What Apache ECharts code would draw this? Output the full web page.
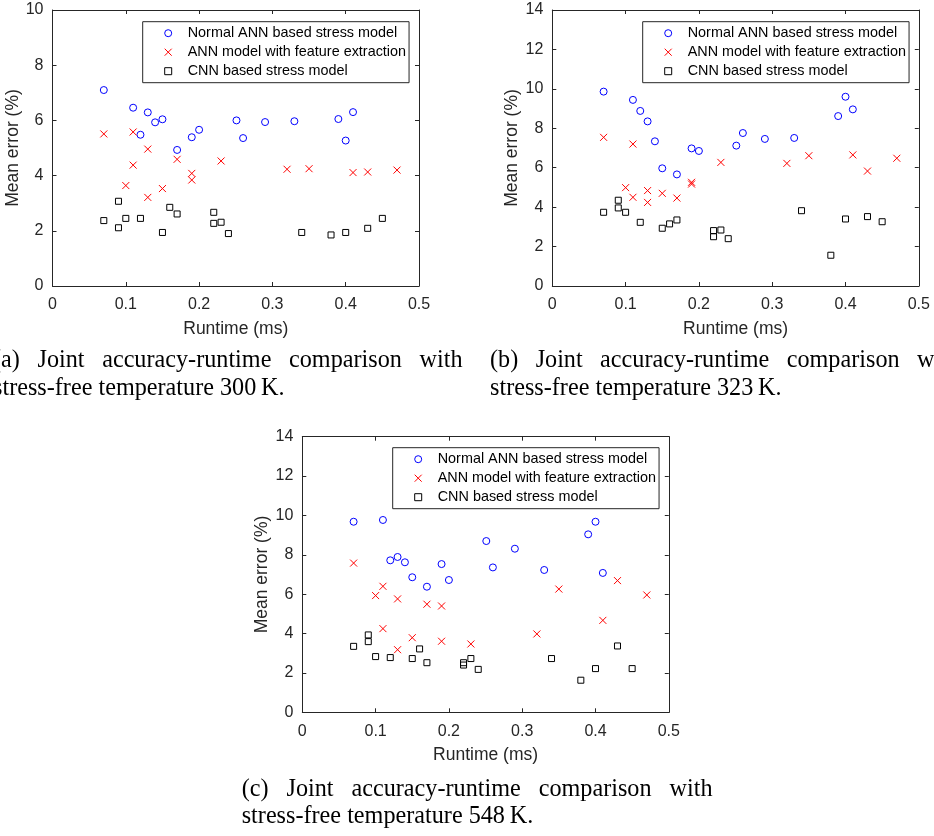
<!DOCTYPE html>
<html><head><meta charset="utf-8">
<script src="https://cdn.jsdelivr.net/npm/echarts@6/dist/echarts.min.js"></script>
<style>html,body{margin:0;padding:0;background:#fff}#c{width:934px;height:836px}</style>
</head><body><div id="c"></div>
<script>
// ---- data ----
const seriesNames = ['Normal ANN based stress model', 'ANN model with feature extraction', 'CNN based stress model'];
const xTicks = [0, 0.1, 0.2, 0.3, 0.4, 0.5];
const yMaxA = 10, yMaxB = 14, yMaxC = 14;

const runtimeNormal = [0.07,0.11,0.12,0.13,0.14,0.15,0.17,0.19,0.20,0.251,0.26,0.29,0.33,0.39,0.40,0.41];
const runtimeFeat   = [0.07,0.10,0.11,0.11,0.13,0.13,0.15,0.17,0.19,0.19,0.23,0.32,0.35,0.41,0.43,0.47];
const runtimeCNN    = [0.07,0.09,0.09,0.10,0.12,0.15,0.16,0.17,0.22,0.22,0.23,0.24,0.34,0.38,0.40,0.43,0.45];

const errNormalA = [7.10,6.46,5.48,6.29,5.93,6.04,4.93,5.39,5.66,6.00,5.36,5.94,5.97,6.05,5.27,6.30];
const errFeatA   = [5.51,3.64,5.58,4.38,4.96,3.21,3.53,4.59,4.08,3.84,4.53,4.23,4.25,4.11,4.13,4.20];
const errCNNA    = [2.37,3.07,2.11,2.45,2.45,1.94,2.85,2.61,2.67,2.27,2.31,1.90,1.94,1.85,1.94,2.09,2.45];

const errNormalB = [9.86,9.44,8.88,8.35,7.34,5.97,5.66,6.98,6.85,7.12,7.76,7.46,7.51,8.62,9.60,8.96];
const errFeatB   = [7.54,4.99,7.20,4.50,4.84,4.24,4.70,4.46,5.26,5.17,6.27,6.22,6.61,6.65,5.83,6.48];
const errCNNB    = [3.74,4.35,3.96,3.74,3.23,2.93,3.15,3.35,2.81,2.50,2.84,2.40,3.82,1.56,3.40,3.52,3.26];

const errNormalC = [9.68,9.77,7.72,7.89,7.62,6.86,6.38,7.53,6.72,8.70,7.36,8.31,7.23,9.04,9.68,7.08];
const errFeatC   = [7.58,5.93,6.40,4.25,5.76,3.18,3.79,5.49,5.40,3.61,3.47,3.98,6.26,4.67,6.69,5.96];
const errCNNC    = [3.35,3.93,3.59,2.83,2.78,2.73,3.22,2.52,2.52,2.40,2.73,2.18,2.73,1.63,2.22,3.37,2.22];

const captionsLine1 = [
  ['(a)', 'Joint', 'accuracy-runtime', 'comparison', 'with'],
  ['(b)', 'Joint', 'accuracy-runtime', 'comparison', 'with'],
  ['(c)', 'Joint', 'accuracy-runtime', 'comparison', 'with']
];
const captionsLine2 = [
  'stress-free temperature 300\u2009K.',
  'stress-free temperature 323\u2009K.',
  'stress-free temperature 548\u2009K.'
];

// ---- layout ----
const AX = '#262626';
const panels = [
  {left: 52.5, top: 10, w: 366.5, h: 276, ymax: yMaxA, ys: [errNormalA, errFeatA, errCNNA],
   legend: {left: 142.7, top: 21.7}, cap: {x0: -7, x1: 462.5, y1: 361, y2: 389}},
  {left: 552.3, top: 10, w: 366.5, h: 276, ymax: yMaxB, ys: [errNormalB, errFeatB, errCNNB],
   legend: {left: 642.7, top: 21.7}, cap: {x0: 490, x1: 960, y1: 361, y2: 389}},
  {left: 302.3, top: 436.7, w: 366.5, h: 275.6, ymax: yMaxC, ys: [errNormalC, errFeatC, errCNNC],
   legend: {left: 392.7, top: 447.7}, cap: {x0: 241.7, x1: 712.5, y1: 790, y2: 817}}
];
const xs = [runtimeNormal, runtimeFeat, runtimeCNN];
const symbols = ['circle', 'path://M0,0L10,10M0,10L10,0', 'rect'];
const symSizes = [7, 7, 6];
const legendSizes = [7, 7, 6];
const colors = ['#0000ff', '#ff0000', '#000000'];

const grids = [], xAxes = [], yAxes = [], series = [], legends = [], graphics = [];
const tickFont = 'Liberation Sans';
const capSize = 24.2;

panels.forEach((p, i) => {
  grids.push({left: p.left, top: p.top, width: p.w, height: p.h, containLabel: false});
  const baseLine = {show: true, onZero: false, lineStyle: {color: AX, width: 1}};
  const tick = {show: true, inside: true, length: 4, lineStyle: {color: AX, width: 1}};
  xAxes.push({gridIndex: i, type: 'value', position: 'bottom', min: xTicks[0], max: xTicks[xTicks.length - 1], interval: 0.1,
    axisLine: baseLine, axisTick: tick, splitLine: {show: false},
    axisLabel: {fontSize: 16, fontFamily: tickFont, color: AX, margin: 11},
    name: 'Runtime (ms)', nameLocation: 'middle', nameGap: 34,
    nameTextStyle: {fontSize: 17.5, fontFamily: tickFont, color: AX}});
  xAxes.push({gridIndex: i, type: 'value', position: 'top', min: xTicks[0], max: xTicks[xTicks.length - 1], interval: 0.1,
    axisLine: baseLine, axisTick: tick, splitLine: {show: false}, axisLabel: {show: false}});
  yAxes.push({gridIndex: i, type: 'value', position: 'left', min: 0, max: p.ymax, interval: 2,
    axisLine: baseLine, axisTick: tick, splitLine: {show: false},
    axisLabel: {fontSize: 16, fontFamily: tickFont, color: AX, margin: 9},
    name: 'Mean error (%)', nameLocation: 'middle', nameGap: 30,
    nameTextStyle: {fontSize: 17.5, fontFamily: tickFont, color: AX}});
  yAxes.push({gridIndex: i, type: 'value', position: 'right', min: 0, max: p.ymax, interval: 2,
    axisLine: baseLine, axisTick: tick, splitLine: {show: false}, axisLabel: {show: false}});

  for (let s = 0; s < 3; s++) {
    series.push({
      type: 'scatter', name: seriesNames[s], xAxisIndex: 2 * i, yAxisIndex: 2 * i,
      symbol: symbols[s], symbolSize: symSizes[s],
      itemStyle: {color: 'rgba(0,0,0,0)', borderColor: colors[s], borderWidth: 1, opacity: 1},
      emphasis: {disabled: true},
      data: xs[s].map((x, k) => [x, p.ys[s][k]])
    });
  }
  legends.push({
    left: p.legend.left, top: p.legend.top, orient: 'vertical',
    data: seriesNames.map((n, s) => ({name: n, icon: symbols[s],
      itemStyle: {color: 'rgba(0,0,0,0)', borderColor: colors[s], borderWidth: 1}})),
    itemWidth: 7, itemHeight: 7, itemGap: 0,
    padding: [2, 3, 2, 21.5], borderColor: AX, borderWidth: 1, backgroundColor: '#fff',
    textStyle: {fontSize: 14.4, fontFamily: tickFont, color: '#000', lineHeight: 19, padding: [0, 0, 0, 11]},
    selectedMode: false
  });

  // captions (justified first line)
  const cv = document.createElement('canvas').getContext('2d');
  cv.font = capSize + 'px "Liberation Serif"';
  const words = captionsLine1[i];
  const widths = words.map(wd => cv.measureText(wd).width);
  const total = widths.reduce((a, b) => a + b, 0);
  const gap = (p.cap.x1 - p.cap.x0 - total) / (words.length - 1);
  let cx = p.cap.x0;
  words.forEach((wd, k) => {
    graphics.push({type: 'text', x: cx, y: p.cap.y1,
      style: {text: wd, fontSize: capSize, fontFamily: 'Liberation Serif', fill: '#000', align: 'left', verticalAlign: 'middle'}});
    cx += widths[k] + gap;
  });
  graphics.push({type: 'text', x: p.cap.x0, y: p.cap.y2,
    style: {text: captionsLine2[i], fontSize: capSize, fontFamily: 'Liberation Serif', fill: '#000', align: 'left', verticalAlign: 'middle'}});
});

const chart = echarts.init(document.getElementById('c'), null, {renderer: 'canvas'});
chart.setOption({
  animation: false,
  backgroundColor: '#fff',
  grid: grids, xAxis: xAxes, yAxis: yAxes, series: series, legend: legends,
  graphic: graphics,
  tooltip: {show: false}
});
</script></body></html>
